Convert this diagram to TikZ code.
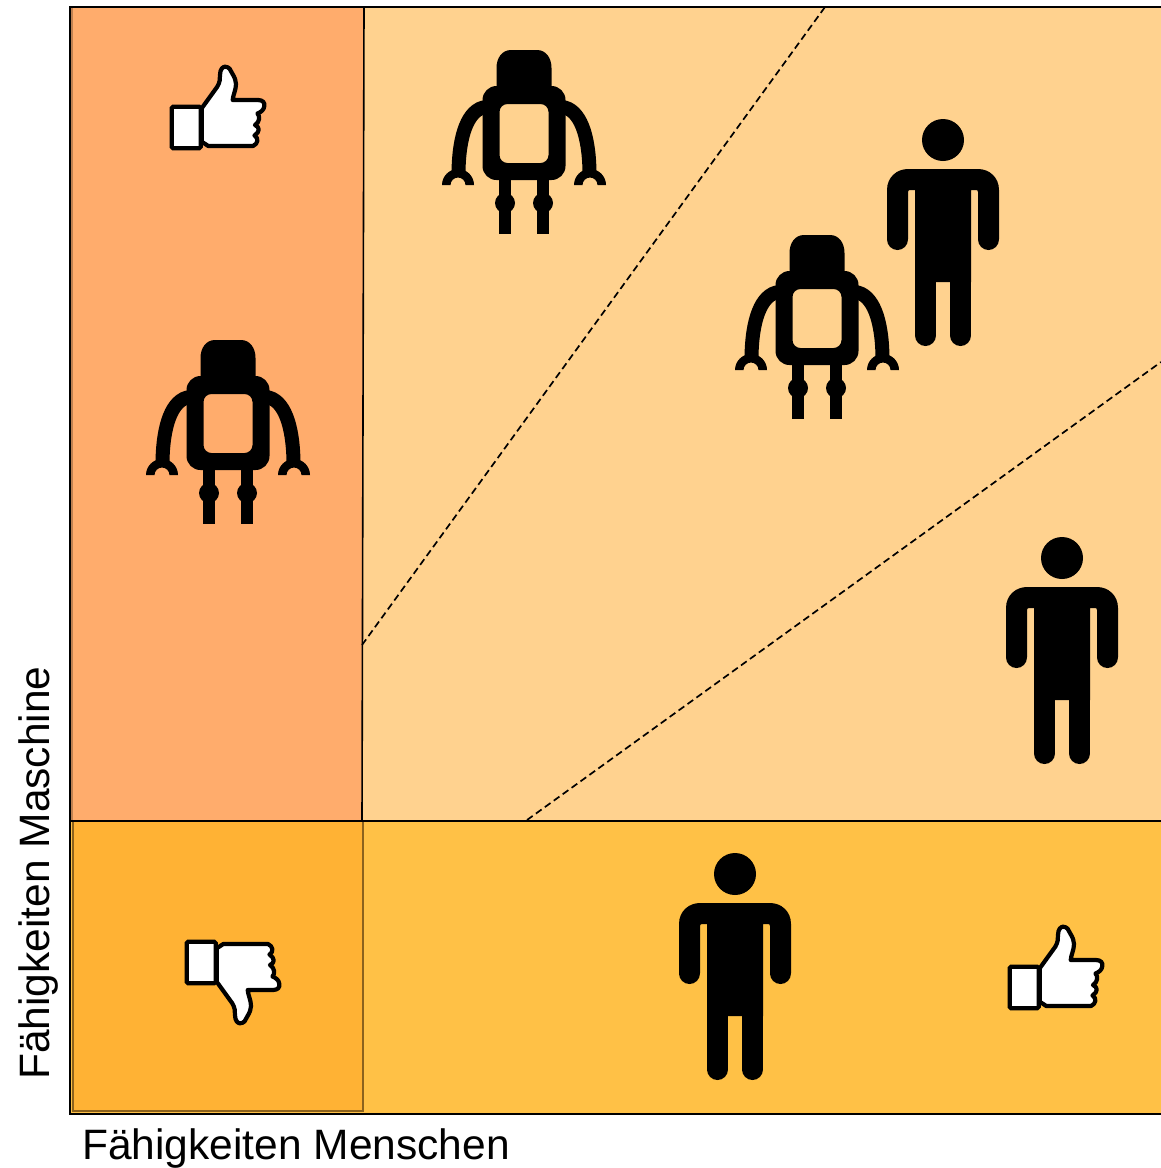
\documentclass[tikz,border=0pt]{standalone}
\usepackage{fontspec}
\setmainfont{Liberation Sans}
\definecolor{lightfield}{HTML}{FFD28F}
\definecolor{leftfield}{HTML}{FFAC6C}
\definecolor{lowfield}{HTML}{FFC146}
\definecolor{cornerfield}{HTML}{FFB234}
\tikzset{
    axislabel/.style={font=\fontsize{42.5}{43}\selectfont, inner sep=0pt, anchor=base west},
    frameline/.style={draw=black, line width=1.6},
    split/.style={draw=black, line width=1.7, dash pattern=on 7pt off 4pt},
    robot/.pic={
        \fill (-27.5,45) -- (-27.5,18) .. controls (-27.5,8) and (-22,0) .. (-13,0)
             -- (13,0) .. controls (22,0) and (27.5,8) .. (27.5,18) -- (27.5,45) -- cycle;
        \fill[even odd rule] [rounded corners=14] (-41.5,36) rectangle (41.5,130)
             [rounded corners=8] (-24.5,54) rectangle (24.5,113);
        \foreach \s in {-1,1} {
            \draw[line width=14] (\s*38,57) .. controls (\s*56,59) and (\s*65,85) .. (\s*65.5,122);
            \fill (\s*66-16,135) .. controls (\s*66-16,126.2) and (\s*66-8.8,119) .. (\s*66,119)
                 .. controls (\s*66+8.8,119) and (\s*66+16,126.2) .. (\s*66+16,135)
                 -- (\s*66+7.5,135) .. controls (\s*66+7.5,130.9) and (\s*66+4.1,127.5) .. (\s*66,127.5)
                 .. controls (\s*66-4.1,127.5) and (\s*66-7.5,130.9) .. (\s*66-7.5,135) -- cycle;
            \fill (\s*19-6.3,125) rectangle (\s*19+6.3,184);
            \fill (\s*19,153) circle (10);
        }
    },
    person/.pic={
        \fill (0,21) circle (21);
        \fill (-56,120) -- (-56,71) .. controls (-56,58) and (-46,50) .. (-35,50)
             -- (35,50) .. controls (46,50) and (56,58) .. (56,71) -- (56,120)
             -- (35,120) -- (35,73) .. controls (35,71.5) and (34,71) .. (33,71) -- (28,71)
             -- (28,163) -- (-28,163)
             -- (-28,71) -- (-33,71) .. controls (-34,71) and (-35,71.5) .. (-35,73)
             -- (-35,120) -- cycle;
        \foreach \s in {-1,1} {
            \draw[line width=21, line cap=round] (\s*45.5,115) -- (\s*45.5,120.5);
            \draw[line width=21, line cap=round] (\s*17.5,160) -- (\s*17.5,216.5);
        }
    },
    thumb/.pic={
        \draw[fill=white, line width=4.2, line join=round] (31.7,43.3) -- (47.3,21.7)
             .. controls (50,17) and (50,14) .. (50,10)
             .. controls (50,4) and (53,1.7) .. (55,1.7)
             .. controls (59,1.7) and (61,5) .. (62,8)
             .. controls (65,13) and (66,16) .. (66,19)
             .. controls (66,25) and (63,30) .. (62.7,35)
             -- (88,35) .. controls (93,35) and (95,38) .. (94.3,41)
             .. controls (94,45) and (91,47) .. (87.5,48.5)
             .. controls (90,51) and (90,57) .. (85,60)
             .. controls (90,62) and (90,67) .. (84.5,70.5)
             .. controls (89,73) and (88,79) .. (83,81)
             -- (38.3,81) -- (31.7,76.7) -- cycle;
        \draw[fill=white, line width=4.2, rounded corners=1.5] (1.7,41.7) rectangle (30.7,83.3);
    }
}

\begin{document}
\begin{tikzpicture}[x=1pt,y=-1pt]
    \useasboundingbox (0,0) rectangle (1161,1168);

    % fields
    \fill[lightfield] (363,7) rectangle (1161,821);
    \fill[leftfield] (73,7) rectangle (363,821);
    \fill[black!25!leftfield] (70,7) rectangle (73,821);
    \fill[lowfield] (70,821) rectangle (1161,1114);
    \fill[cornerfield, draw=black!45!cornerfield, line width=1.8] (73,821) rectangle (363,1111);

    % frame
    \coordinate (topleft) at (70,7);
    \coordinate (topright) at (1161,7);
    \coordinate (lowleft) at (70,1114);
    \coordinate (lowright) at (1161,1114);
    \coordinate (midleft) at (70,821);
    \coordinate (midright) at (1161,821);
    \coordinate (coltop) at (364,7);
    \coordinate (colmid) at (362,821);
    \coordinate (splitAstart) at (362,645);
    \coordinate (splitAend) at (825,7);
    \coordinate (splitBstart) at (527,820);
    \coordinate (splitBend) at (1161,362);

    \draw[frameline] (topright) -- (topleft) -- (lowleft) -- (lowright);
    \draw[frameline] (midleft) -- (midright);
    \draw[frameline] (coltop) -- (colmid);
    \draw[split] (splitAstart) -- (splitAend);
    \draw[split] (splitBstart) -- (splitBend);

    % figures
    \pic (robotA) at (524,50) {robot};
    \pic (robotB) at (817,235) {robot};
    \pic (robotC) at (228,340) {robot};
    \pic (personA) at (943,119) {person};
    \pic (personB) at (1062,537) {person};
    \pic (personC) at (735,853) {person};
    \pic (thumbA) at (170,65) {thumb};
    \pic (thumbB) at (1008,925) {thumb};
    \pic[yscale=-1] (thumbC) at (185,1025) {thumb};

    % labels
    \node[axislabel] (xlabel) at (82,1159) {Fähigkeiten Menschen};
    \node[axislabel, rotate=90] (ylabel) at (49,1080) {Fähigkeiten Maschine};
\end{tikzpicture}
\end{document}
